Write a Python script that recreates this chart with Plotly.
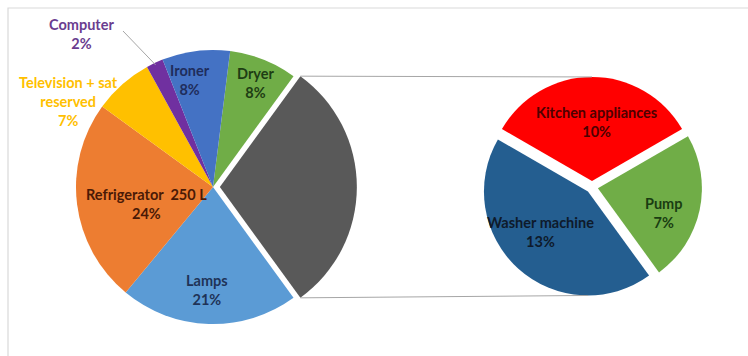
import math
import plotly.graph_objects as go

# ---- data -------------------------------------------------------------
main_labels = ["Dryer", "Other", "Lamps", "Refrigerator  250 L",
               "Television + sat<br>reserved", "Computer", "Ironer"]
main_values = [8, 30, 21, 24, 7, 2, 8]
main_colors = ["#70AD47", "#595959", "#5B9BD5", "#ED7D31",
               "#FFC000", "#7030A0", "#4472C4"]
main_text_colors = ["#1E3D14", None, "#1F3357", "#4A1A06",
                    "#FFC000", "#6A3D8F", "#1F2D5C"]

sub_labels = ["Kitchen appliances", "Pump", "Washer machine"]
sub_values = [10, 7, 13]
sub_colors = ["#FF0000", "#70AD47", "#245E90"]
sub_text_colors = ["#4D0000", "#1A3D12", "#0E1A2B"]

# ---- geometry (pixels) ------------------------------------------------
W, H = 748, 356
cx1, cy1, r1, pull1 = 213, 187, 137, 0.05
cx2, cy2, r2, pull2 = 592, 187, 104, 0.058

other_idx = main_labels.index("Other")
other_val = main_values[other_idx]
tot1 = sum(main_values)
# rotate so the "Other" slice points to 3 o'clock (towards the secondary pie)
before = sum(main_values[:other_idx])
rot1 = 90 - (before + other_val / 2) / tot1 * 360
tot2 = sum(sub_values)
rot2 = -sub_values[0] / tot2 * 180  # first slice centred at 12 o'clock


def px(x):
    return x / W


def py(y):
    return 1 - y / H


def domain(cx, cy, r, pull):
    half = r * (1 + pull)
    return dict(x=[px(cx - half), px(cx + half)],
                y=[py(cy + half), py(cy - half)])


def slice_angles(values, rot):
    tot = sum(values)
    out, a = [], rot
    for v in values:
        span = v / tot * 360
        out.append((a, a + span))
        a += span
    return out


def point(cx, cy, r, ang):
    t = math.radians(ang)
    return cx + r * math.sin(t), cy - r * math.cos(t)


fig = go.Figure()

pulls1 = [pull1 if i == other_idx else 0 for i in range(len(main_values))]
fig.add_trace(go.Pie(
    labels=main_labels, values=main_values, sort=False,
    direction="clockwise", rotation=rot1, pull=pulls1,
    marker=dict(colors=main_colors, line=dict(width=0)),
    textinfo="none", hoverinfo="label+value", domain=domain(cx1, cy1, r1, pull1),
    showlegend=False,
))
fig.add_trace(go.Pie(
    labels=sub_labels, values=sub_values, sort=False,
    direction="clockwise", rotation=rot2, pull=[pull2] * len(sub_values),
    marker=dict(colors=sub_colors, line=dict(width=0)),
    textinfo="none", hoverinfo="label+value", domain=domain(cx2, cy2, r2, pull2),
    showlegend=False,
))

shapes = []
# chart-area frame (only top and left edges fall inside the page)
shapes.append(dict(type="rect", xref="paper", yref="paper",
                   x0=px(8), y0=py(8), x1=px(W + 20), y1=py(H + 20),
                   line=dict(color="#D9D9D9", width=1.2), layer="below"))

# connector lines from the "Other" slice corners to the secondary pie
ang1 = slice_angles(main_values, rot1)
a0, a1 = ang1[other_idx]
mid = (a0 + a1) / 2
sx, sy = point(0, 0, pull1 * r1, mid)
top_l = point(cx1 + sx, cy1 + sy, r1, a0)
bot_l = point(cx1 + sx, cy1 + sy, r1, a1)

ang2 = slice_angles(sub_values, rot2)
k0, k1 = ang2[0]
kx, ky = point(0, 0, pull2 * r2, (k0 + k1) / 2)
top_r = point(cx2 + kx, cy2 + ky, r2, 0)
w0, w1 = ang2[2]
wx, wy = point(0, 0, pull2 * r2, (w0 + w1) / 2)
bot_r = point(cx2 + wx, cy2 + wy, r2, 180)

for (xa, ya), (xb, yb) in ((top_l, top_r), (bot_l, bot_r)):
    shapes.append(dict(type="line", xref="paper", yref="paper",
                       x0=px(xa), y0=py(ya), x1=px(xb), y1=py(yb),
                       line=dict(color="#A6A6A6", width=1)))

# leader line for the small Computer slice
ci = main_labels.index("Computer")
cmid = sum(ang1[ci]) / 2
ex, ey = point(cx1, cy1, r1 - 2, cmid)
shapes.append(dict(type="line", xref="paper", yref="paper",
                   x0=px(123), y0=py(31), x1=px(ex), y1=py(ey),
                   line=dict(color="#A6A6A6", width=1)))

# ---- data labels --------------------------------------------------------
label_pos_main = {
    "Dryer": (256, 83),
    "Lamps": (207, 290),
    "Refrigerator  250 L": (146, 204),
    "Television + sat<br>reserved": (68, 101),
    "Computer": (81, 34),
    "Ironer": (190, 80),
}
label_pos_sub = {
    "Kitchen appliances": (596, 122),
    "Pump": (664, 213),
    "Washer machine": (540, 232),
}

FONT = "Lato"
FSIZE = 14.5


def label(x, y, text, col):
    return dict(x=px(x), y=py(y), xref="paper", yref="paper",
                xanchor="center", yanchor="middle", showarrow=False,
                text=text, align="center",
                font=dict(family=FONT, size=FSIZE, color=col))


annotations = []
for name, val, col in zip(main_labels, main_values, main_text_colors):
    if name in label_pos_main:
        x, y = label_pos_main[name]
        annotations.append(label(x, y, f"<b>{name}<br>{val}%</b>", col))
for name, val, col in zip(sub_labels, sub_values, sub_text_colors):
    x, y = label_pos_sub[name]
    annotations.append(label(x, y, f"<b>{name}<br>{val}%</b>", col))

fig.update_layout(
    width=W, height=H, margin=dict(l=0, r=0, t=0, b=0),
    paper_bgcolor="white", plot_bgcolor="white",
    shapes=shapes, annotations=annotations,
)

fig.write_html("out.html")
